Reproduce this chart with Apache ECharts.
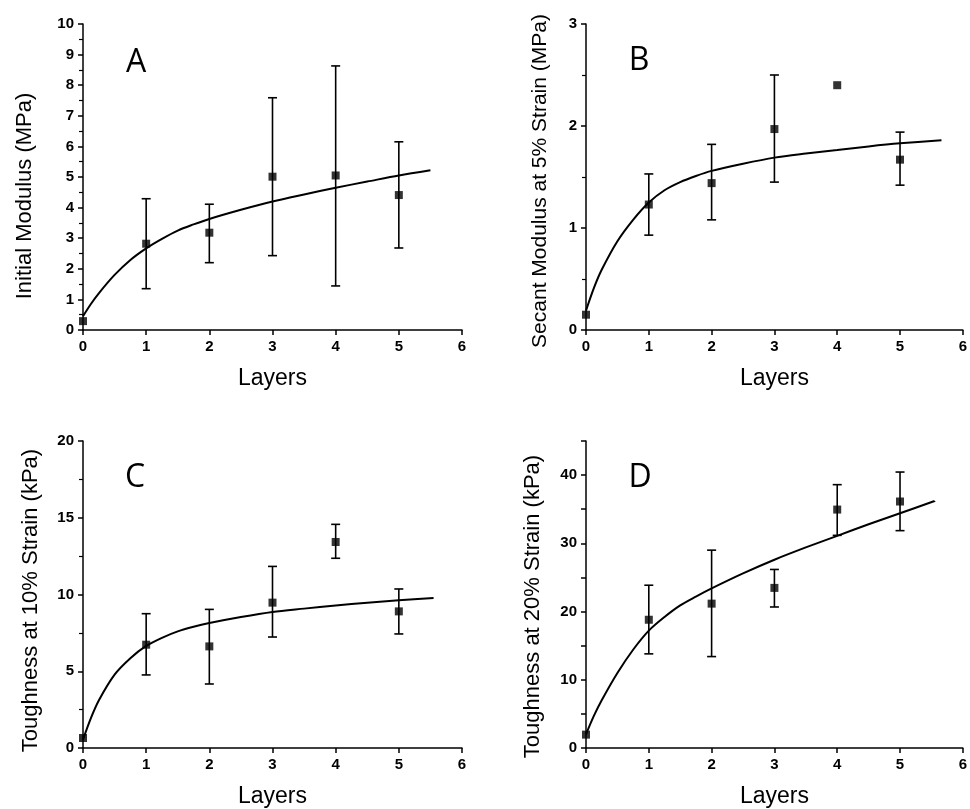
<!DOCTYPE html>
<html>
<head>
<meta charset="utf-8">
<title>Layers</title>
<script src="https://cdn.jsdelivr.net/npm/echarts@6/dist/echarts.min.js"></script>
<style>
  html,body{margin:0;padding:0;background:#fff;}
  #chart{width:970px;height:809px;}
</style>
</head>
<body>
<div id="chart"></div>
<script>
// 四个面板：A 初始模量 / B 5% 割线模量 / C 10% 韧性 / D 20% 韧性
const layers=[0,1,2,3,4,5];

const aMean=[0.29,2.82,3.18,5.01,5.05,4.41];
const aLow =[null,1.35,2.20,2.43,1.44,2.68];
const aHigh=[null,4.29,4.11,7.59,8.63,6.15];

const bMean=[0.15,1.23,1.44,1.97,2.40,1.67];
const bLow =[null,0.93,1.08,1.45,null,1.42];
const bHigh=[null,1.53,1.82,2.50,null,1.94];

const cMean=[0.65,6.73,6.62,9.47,13.42,8.90];
const cLow =[null,4.76,4.17,7.23,12.36,7.43];
const cHigh=[null,8.75,9.03,11.83,14.57,10.36];

const dMean=[1.96,18.8,21.16,23.47,34.95,36.13];
const dLow =[null,13.8,13.4,20.67,31.17,31.86];
const dHigh=[null,23.86,29.0,26.17,38.6,40.45];

// 拟合曲线（从图上读出的点），最后一个 x 为各曲线的终点
const fitX=[0,0.125,0.25,0.5,0.75,1,1.25,1.5,1.75,2,2.5,3,3.5,4,4.5,5];
const aFitEnd=5.5,  aFit=[0.45,0.85,1.2,1.8,2.29,2.67,2.98,3.25,3.45,3.63,3.93,4.2,4.43,4.65,4.85,5.05,5.22];
const bFitEnd=5.66, bFit=[0.19,0.41,0.59,0.87,1.08,1.25,1.37,1.45,1.51,1.56,1.63,1.69,1.73,1.765,1.80,1.83,1.86];
const cFitEnd=5.55, cFit=[0.55,1.95,3.1,4.78,5.85,6.65,7.18,7.6,7.9,8.14,8.53,8.86,9.08,9.29,9.47,9.62,9.77];
const dFitEnd=5.55, dFit=[2.0,4.7,7.0,11.0,14.4,17.2,19.2,20.9,22.2,23.4,25.6,27.6,29.4,31.1,32.8,34.4,36.2];

const yNames=['Initial Modulus (MPa)','Secant Modulus at 5% Strain (MPa)',
  'Toughness at 10% Strain (kPa)','Toughness at 20% Strain (kPa)'];
const letters=['A','B','C','D'];

const FONT='"Liberation Sans", Arial, Helvetica, sans-serif';
const chart=echarts.init(document.getElementById('chart'));

const grids=[
  {left:83, top:24, width:379,height:306},
  {left:586,top:24, width:379,height:306},
  {left:83, top:441,width:379,height:307},
  {left:586,top:441,width:379,height:307},
];
// y 轴刻度设置与标题偏移
const yCfg=[
  {max:10,interval:1,minor:true, gap:47,shift:19,fs:22},
  {max:3, interval:1,minor:true, gap:35,shift:4, fs:21},
  {max:20,interval:5,minor:true, gap:41,shift:6, fs:22},
  {max:45,interval:5,minor:false,gap:42,shift:12,fs:22,every:10},
];
const letterPos=[[136,63],[639,61],[135,478],[640,478]];

const axisLine={lineStyle:{color:'#000',width:1.5}};
const tickLbl={color:'#000',fontFamily:FONT,fontWeight:'bold',fontSize:15};

const xAxis=grids.map((g,i)=>({
  type:'value',gridIndex:i,min:0,max:6,interval:1,
  name:'Layers',nameLocation:'middle',nameGap:37,
  nameTextStyle:{color:'#000',fontFamily:FONT,fontSize:23},
  axisLine,axisTick:{length:5,lineStyle:{color:'#000',width:1.5}},
  axisLabel:{...tickLbl,margin:9},splitLine:{show:false},
}));
const yAxis=yCfg.map((c,i)=>({
  type:'value',gridIndex:i,min:0,max:c.max,interval:c.interval,
  name:yNames[i],nameLocation:'middle',nameRotate:90,nameGap:c.gap,
  nameTextStyle:{color:'#000',fontFamily:FONT,fontSize:c.fs,padding:[0,2*c.shift,0,0]},
  axisLine,axisTick:{length:5,lineStyle:{color:'#000',width:1.5}},
  minorTick:{show:c.minor,splitNumber:2,length:4,lineStyle:{color:'#000',width:1.2}},
  axisLabel:{...tickLbl,margin:9,
    formatter:v=>c.every?(v%c.every===0?String(v):''):String(v)},
  splitLine:{show:false},minorSplitLine:{show:false},
}));

function errSeries(i,low,high){
  return {type:'custom',xAxisIndex:i,yAxisIndex:i,silent:true,z:3,
    data:layers.map((x,k)=>low[k]==null?null:[x,low[k],high[k]]).filter(Boolean),
    renderItem:(params,api)=>{
      const x=api.value(0), lo=api.coord([x,api.value(1)]), hi=api.coord([x,api.value(2)]);
      const w=4.5, st={stroke:'#000',lineWidth:1.6};
      return {type:'group',children:[
        {type:'line',shape:{x1:lo[0],y1:lo[1],x2:hi[0],y2:hi[1]},style:st},
        {type:'line',shape:{x1:hi[0]-w,y1:hi[1],x2:hi[0]+w,y2:hi[1]},style:st},
        {type:'line',shape:{x1:lo[0]-w,y1:lo[1],x2:lo[0]+w,y2:lo[1]},style:st},
      ]};
    }};
}
function pointSeries(i,mean){
  return {type:'scatter',xAxisIndex:i,yAxisIndex:i,symbol:'rect',symbolSize:8,z:4,
    itemStyle:{color:'#000'},data:layers.map((x,k)=>[x,mean[k]])};
}
function fitSeries(i,fit,end){
  const xs=[...fitX,end];
  return {type:'line',xAxisIndex:i,yAxisIndex:i,smooth:0.3,
    showSymbol:false,z:2,lineStyle:{color:'#000',width:2},data:xs.map((x,k)=>[x,fit[k]])};
}

const panels=[[aMean,aLow,aHigh,aFit,aFitEnd],[bMean,bLow,bHigh,bFit,bFitEnd],
  [cMean,cLow,cHigh,cFit,cFitEnd],[dMean,dLow,dHigh,dFit,dFitEnd]];
const series=[];
panels.forEach((p,i)=>{
  series.push(fitSeries(i,p[3],p[4]),errSeries(i,p[1],p[2]),pointSeries(i,p[0]));
});

chart.setOption({
  animation:false,
  grid:grids,xAxis,yAxis,series,
  graphic:letters.map((t,i)=>({type:'text',x:letterPos[i][0],y:letterPos[i][1],
    style:{text:t,fill:'#000',font:'32px "Open Sans", "Liberation Sans", sans-serif',
      textAlign:'center',textVerticalAlign:'middle'}})),
});
</script>
</body>
</html>
